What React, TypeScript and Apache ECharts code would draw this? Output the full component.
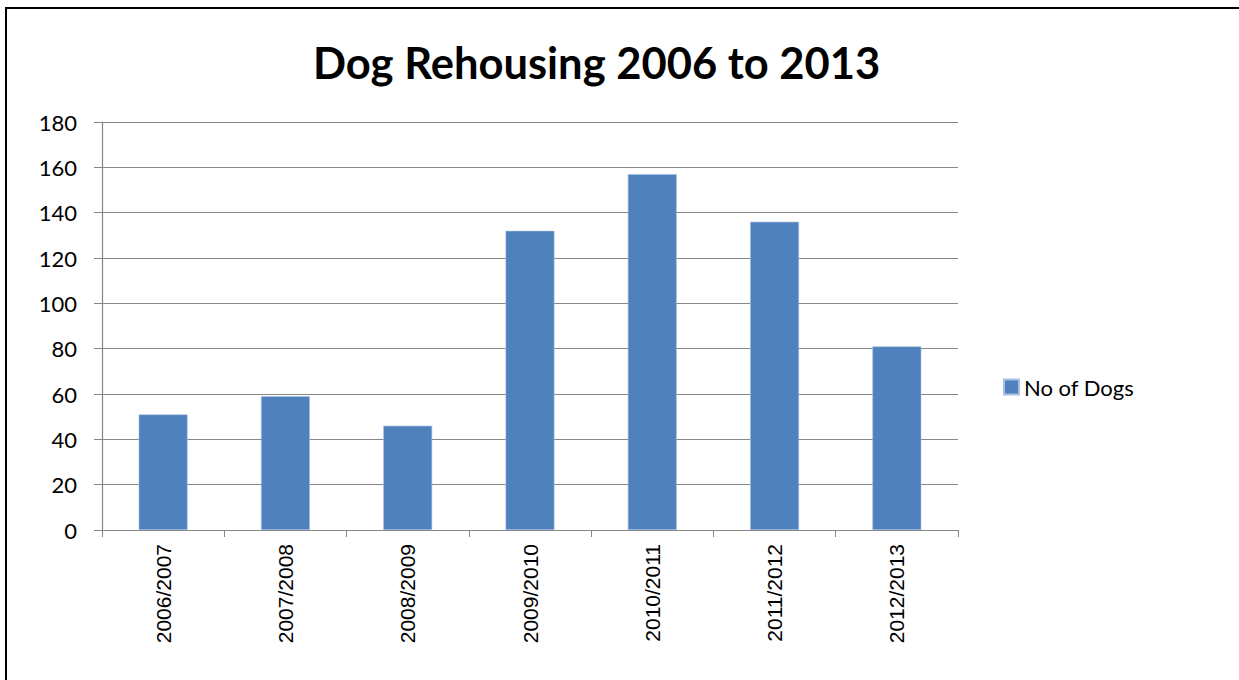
import React, { useEffect, useRef } from "react";
import * as echarts from "echarts";

const categories = ["2006/2007", "2007/2008", "2008/2009", "2009/2010", "2010/2011", "2011/2012", "2012/2013"];
const noOfDogs = [51, 59, 46, 132, 157, 136, 81];
const seriesName = "No of Dogs";
const titleText = "Dog Rehousing 2006 to 2013";

export default function App() {
  const ref = useRef<HTMLDivElement>(null);
  useEffect(() => {
    if (!ref.current) return;
    const chart = echarts.init(ref.current, null, { renderer: "svg" });
    chart.setOption({
      animation: false,
      backgroundColor: "#ffffff",
      title: {
        text: titleText,
        left: 308,
        top: 35,
        textStyle: { fontFamily: "Lato", fontWeight: "bold", fontSize: 43.5, color: "#000" },
      },
      legend: {
        left: 998,
        top: 371,
        orient: "vertical",
        itemWidth: 15,
        itemHeight: 15,
        icon: "rect",
        textStyle: { fontFamily: "Lato", fontSize: 22, color: "#000" },
        data: [seriesName],
      },
      grid: { left: 102, right: 281, top: 122, bottom: 150, containLabel: false },
      xAxis: {
        type: "category",
        data: categories,
        axisLine: { show: true, lineStyle: { color: "#868686", width: 1.2 } },
        axisTick: { show: true, length: 7, lineStyle: { color: "#868686" } },
        axisLabel: { rotate: 90, margin: 14, fontFamily: "Liberation Sans", fontSize: 21, color: "#000" },
      },
      yAxis: {
        type: "value",
        min: 0,
        max: 180,
        interval: 20,
        axisLine: { show: true, lineStyle: { color: "#868686", width: 1.2 } },
        axisTick: { show: true, length: 8, lineStyle: { color: "#868686" } },
        axisLabel: { margin: 25, fontFamily: "Lato", fontSize: 22, color: "#000" },
        splitLine: { show: true, lineStyle: { color: "#868686", width: 1.2 } },
      },
      series: [
        {
          name: seriesName,
          type: "bar",
          data: noOfDogs,
          barCategoryGap: "60%",
          itemStyle: { color: "#4F81BD", borderColor: "#a9c1e0", borderWidth: 0.6 },
        },
      ],
      graphic: [
        {
          type: "rect",
          shape: { x: 6, y: 8, width: 1400, height: 800 },
          style: { fill: "none", stroke: "#000", lineWidth: 2 },
          silent: true,
          z: 100,
        },
      ],
    });
    return () => chart.dispose();
  }, []);
  return <div ref={ref} style={{ position: "fixed", left: 0, top: 0, width: 1239, height: 680 }} />;
}
